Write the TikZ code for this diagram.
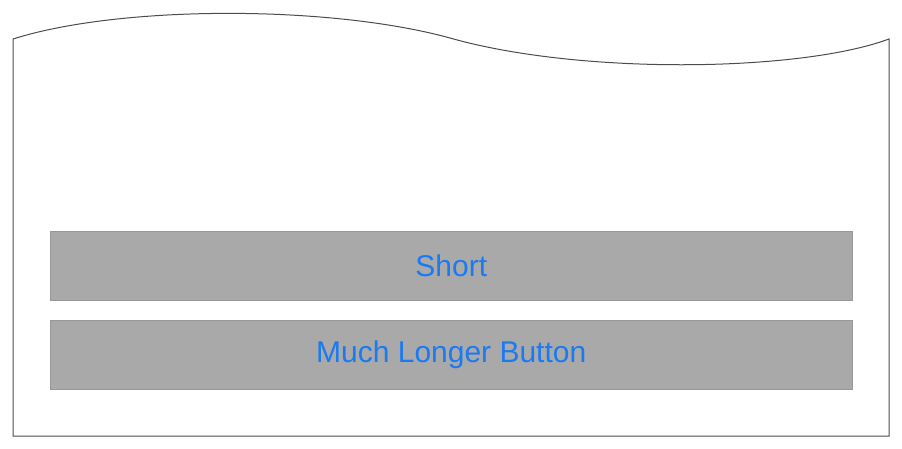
\documentclass[tikz,border=0pt]{standalone}
\usepackage{fontspec}
\setmainfont{Liberation Sans}
\definecolor{btn}{HTML}{A9A9A9}
\definecolor{txt}{HTML}{1A7AF2}
\begin{document}
\begin{tikzpicture}[x=1pt,y=-1pt,
  btnbox/.style={fill=btn,draw=btn!90!black,line width=0.5pt,minimum width=802pt,minimum height=69pt,inner sep=0pt,anchor=north west,text=txt,font=\fontsize{30}{34}\selectfont}]
\useasboundingbox (0,0) rectangle (902,449);
\draw[draw=black!70,line width=1pt] (13,39) -- (13,436) -- (889,436) -- (889,39)
  .. controls (800,72) and (580,75) .. (450,38)
  .. controls (330,5) and (120,5) .. (13,39) -- cycle;
\node[btnbox] (short) at (50,231) {Short};
\node[btnbox] (long) at (50,320) {Much Longer Button};
\end{tikzpicture}
\end{document}
